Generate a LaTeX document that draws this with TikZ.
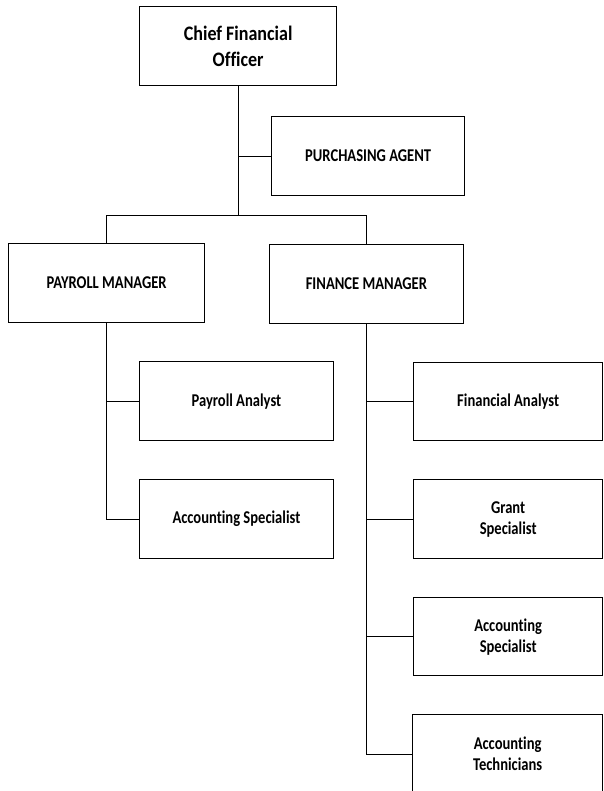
\documentclass[tikz,border=0pt]{standalone}
\usepackage{fontspec}
\setmainfont{Carlito}[FakeStretch=0.875, Ligatures=NoCommon]
\newfontfamily\boxfont{Carlito}[FakeStretch=0.81, Ligatures=NoCommon]
\begin{document}
\begin{tikzpicture}[x=1pt,y=-1pt,
  orgbox/.style={draw, line width=1.3pt, inner sep=0pt, align=center,
    anchor=north west, font=\boxfont\bfseries\fontsize{18}{21}\selectfont},
  topbox/.style={orgbox, font=\bfseries\fontsize{20.6}{26}\selectfont},
  link/.style={line width=0.9pt},
  spine/.style={line width=1.2pt}]
\useasboundingbox (0,0) rectangle (603,791);
\clip (0,0) rectangle (603,791);
% boxes, placed by their top-left corners
\node[topbox, minimum width=197pt, minimum height=79pt] (cfo) at (139,6) {Chief Financial\\Officer};
\node[orgbox, minimum width=193pt, minimum height=79pt] (purch) at (271,116) {PURCHASING AGENT};
\node[orgbox, minimum width=196pt, minimum height=79pt] (pm) at (8,243) {PAYROLL MANAGER};
\node[orgbox, minimum width=194.5pt, minimum height=79pt] (fm) at (268.5,244) {FINANCE MANAGER};
\node[orgbox, minimum width=194.5pt, minimum height=79pt] (pa) at (138.5,361) {Payroll Analyst};
\node[orgbox, minimum width=194.5pt, minimum height=79pt] (as1) at (138.5,479) {Accounting Specialist};
\node[orgbox, minimum width=189pt, minimum height=78pt] (fa) at (413,362) {Financial Analyst};
\node[orgbox, minimum width=189pt, minimum height=79pt] (gs) at (413,479) {Grant\\Specialist};
\node[orgbox, minimum width=189pt, minimum height=78pt] (as2) at (413,597) {Accounting\\Specialist};
\node[orgbox, minimum width=190pt, minimum height=79pt] (at) at (412,714) {Accounting\\Technicians};
% top level connectors
\coordinate (bar) at (cfo.south |- 0,215.5);
\draw[link] (cfo.south) -- (bar);
\draw[link] (cfo.south |- purch.west) -- (purch.west);
\draw[link] (pm.north) |- (bar) -| (fm.north);
% payroll branch
\draw[spine] (pm.south) |- (as1.west);
\draw[link] (pm.south |- pa.west) -- (pa.west);
% finance branch
\draw[link] (fm.south) |- (at.west);
\draw[link] (fm.south |- fa.west) -- (fa.west);
\draw[link] (fm.south |- gs.west) -- (gs.west);
\draw[link] (fm.south |- as2.west) -- (as2.west);
\end{tikzpicture}
\end{document}
